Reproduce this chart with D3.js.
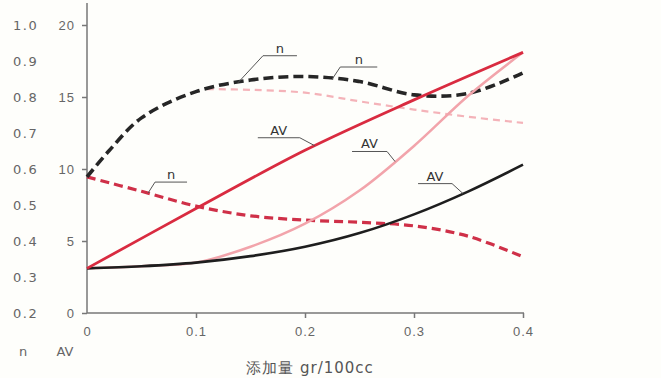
<!DOCTYPE html>
<html>
<head>
<meta charset="utf-8">
<script src="https://cdn.jsdelivr.net/npm/d3@7"></script>
<style>
  body { margin: 0; background: #fefefb; }
  svg { display: block; font-family: "DejaVu Sans", sans-serif; }
</style>
</head>
<body>
<svg id="chart" width="661" height="378"></svg>
<script>
// x values: additive amount gr/100cc
const xTicks = [0, 0.1, 0.2, 0.3, 0.4];
const avTicks = [0, 5, 10, 15, 20];
const nTicks = ["1.0", "0.9", "0.8", "0.7", "0.6", "0.5", "0.4", "0.3", "0.2"];

// n curves (dashed)
const blackNx = [0, 0.02, 0.05, 0.1, 0.15, 0.2, 0.25, 0.3, 0.35, 0.4];
const blackN  = [0.578, 0.65, 0.742, 0.815, 0.847, 0.857, 0.843, 0.806, 0.81, 0.867];
const redNx = [0, 0.05, 0.1, 0.15, 0.2, 0.25, 0.3, 0.35, 0.4];
const redN  = [0.578, 0.538, 0.497, 0.47, 0.458, 0.452, 0.442, 0.413, 0.356];
const pinkNx = [0.11, 0.15, 0.2, 0.25, 0.3, 0.35, 0.4];
const pinkN  = [0.822, 0.82, 0.812, 0.788, 0.765, 0.745, 0.728];

// AV curves (solid)
const redAVx = [0, 0.1, 0.2, 0.3, 0.4];
const redAV  = [3.1, 7.25, 11.3, 14.8, 18.1];
const pinkAVx = [0, 0.05, 0.1, 0.15, 0.2, 0.25, 0.3, 0.35, 0.4];
const pinkAV  = [3.1, 3.25, 3.5, 4.6, 6.2, 8.5, 11.6, 15.1, 18.1];
const blackAVx = [0, 0.05, 0.1, 0.15, 0.2, 0.25, 0.3, 0.35, 0.4];
const blackAV  = [3.1, 3.25, 3.5, 3.95, 4.6, 5.55, 6.85, 8.45, 10.3];

const svg = d3.select("#chart");

const x = d3.scaleLinear().domain([0, 0.4]).range([87, 523]);
const yAV = d3.scaleLinear().domain([0, 20]).range([313, 25]);
const yN = d3.scaleLinear().domain([0.2, 1.0]).range([313, 25]);

// axes
const gx = svg.append("g").attr("transform", "translate(0,313)")
  .call(d3.axisBottom(x).tickValues(xTicks).tickSize(5).tickPadding(9)
    .tickFormat(d => d === 0 ? "0" : d3.format(".1f")(d)));
gx.select(".domain").remove();
svg.append("line").attr("x1", 87).attr("x2", 524).attr("y1", 313).attr("y2", 313)
  .attr("stroke", "#777").attr("stroke-width", 1.5);

const gy = svg.append("g").attr("transform", "translate(87,0)")
  .call(d3.axisLeft(yAV).tickValues(avTicks).tickSize(5).tickPadding(7));
gy.select(".domain").remove();
svg.append("line").attr("x1", 87).attr("x2", 87).attr("y1", 3).attr("y2", 313)
  .attr("stroke", "#777").attr("stroke-width", 1.5);

svg.selectAll(".tick line").attr("stroke", "#777").attr("stroke-width", 1.5);
svg.selectAll(".tick text").attr("fill", "#666").style("font-size", "13px")
  .style("letter-spacing", "1px");
gx.selectAll(".tick").filter(d => d === 0).select("line").remove();

// n labels (left column)
svg.append("g").selectAll("text").data(nTicks).join("text")
  .attr("x", 13).attr("y", d => yN(+d)).attr("dy", "0.35em")
  .attr("fill", "#666").style("font-size", "13px").style("letter-spacing", "1.5px")
  .text(d => d);

svg.append("text").attr("x", 23).attr("y", 356).attr("text-anchor", "middle")
  .attr("fill", "#666").style("font-size", "13px").text("n");
svg.append("text").attr("x", 65).attr("y", 356).attr("text-anchor", "middle")
  .attr("fill", "#666").style("font-size", "13px").text("AV");

svg.append("text").attr("x", 310).attr("y", 373).attr("text-anchor", "middle")
  .attr("fill", "#555").style("font-size", "15px").style("letter-spacing", "1px")
  .text("添加量 gr/100cc");

// curves
const series = [
  { xs: pinkNx, ys: pinkN, y: yN, color: "#f4b3b9", width: 2.2, dash: "7,5" },
  { xs: redNx, ys: redN, y: yN, color: "#cf3048", width: 3.2, dash: "9,5" },
  { xs: blackNx, ys: blackN, y: yN, color: "#262626", width: 3.6, dash: "10,5" },
  { xs: pinkAVx, ys: pinkAV, y: yAV, color: "#f2a4ab", width: 2.5, dash: null },
  { xs: blackAVx, ys: blackAV, y: yAV, color: "#1e1e1e", width: 2.6, dash: null },
  { xs: redAVx, ys: redAV, y: yAV, color: "#d92b40", width: 2.8, dash: null }
];

series.forEach(s => {
  const pts = s.xs.map((v, i) => [v, s.ys[i]]);
  const line = d3.line().x(d => x(d[0])).y(d => s.y(d[1])).curve(d3.curveCatmullRom.alpha(0.5));
  svg.append("path").attr("d", line(pts)).attr("fill", "none")
    .attr("stroke", s.color).attr("stroke-width", s.width)
    .attr("stroke-dasharray", s.dash);
});

// annotations: anchor on a curve, leader, underline and label
const annotations = [
  { text: "n", s: 2, at: 0.1385, dx: 25, dy: -27, w: 34 },
  { text: "n", s: 2, at: 0.225, dx: 8, dy: -12, w: 37 },
  { text: "n", s: 1, at: 0.056, dx: 7, dy: -11, w: 32 },
  { text: "AV", s: 5, at: 0.209, dx: -15, dy: -8, w: -42 },
  { text: "AV", s: 3, at: 0.2826, dx: -8, dy: -10, w: -35 },
  { text: "AV", s: 4, at: 0.345, dx: -11, dy: -10, w: -34 }
];

annotations.forEach(a => {
  const s = series[a.s];
  const interp = d3.scaleLinear().domain(s.xs).range(s.ys);
  const ax = x(a.at), ay = s.y(interp(a.at));
  const ex = ax + a.dx, ey = ay + a.dy;
  const g = svg.append("g").attr("stroke", "#555").attr("stroke-width", 1).attr("fill", "none");
  g.append("path").attr("d", `M${ax},${ay}L${ex},${ey}L${ex + a.w},${ey}`);
  svg.append("text").attr("x", ex + a.w / 2).attr("y", ey - 3)
    .attr("text-anchor", "middle").attr("fill", "#333").style("font-size", "13px")
    .text(a.text);
});
</script>
</body>
</html>
